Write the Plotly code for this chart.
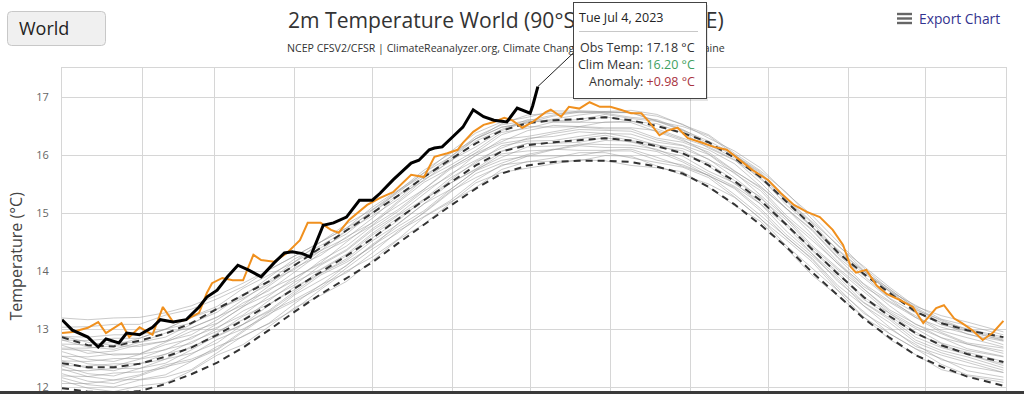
import plotly.graph_objects as go
import pandas as pd

# ---------------- data ----------------
# climatology (1979-2000) sampled every 10 days (day-of-year, Jan 1 = 0)
clim_days = [0, 10, 20, 30, 40, 50, 60, 70, 80, 90, 100, 110, 120, 130, 140, 150, 160, 170, 180, 190,
             200, 210, 220, 230, 240, 250, 260, 270, 280, 290, 300, 310, 320, 330, 340, 350, 364]
clim_mean = [12.41, 12.34, 12.34, 12.40, 12.52, 12.68, 12.90, 13.15, 13.42, 13.70,
             13.98, 14.26, 14.56, 14.90, 15.22, 15.52, 15.82, 16.06, 16.17, 16.22,
             16.26, 16.29, 16.25, 16.15, 16.03, 15.82, 15.55, 15.22, 14.80, 14.38,
             13.95, 13.55, 13.22, 12.93, 12.72, 12.57, 12.43]
clim_upper = [12.86, 12.72, 12.70, 12.80, 12.92, 13.10, 13.35, 13.58, 13.82, 14.10,
              14.40, 14.70, 15.00, 15.30, 15.62, 15.92, 16.20, 16.42, 16.55, 16.60,
              16.62, 16.65, 16.60, 16.50, 16.38, 16.22, 15.95, 15.62, 15.20, 14.78,
              14.32, 13.95, 13.62, 13.30, 13.10, 12.98, 12.86]
clim_lower = [11.98, 11.92, 11.90, 11.93, 12.05, 12.22, 12.42, 12.68, 12.98, 13.30,
              13.60, 13.88, 14.15, 14.48, 14.80, 15.12, 15.42, 15.68, 15.82, 15.88,
              15.90, 15.90, 15.88, 15.80, 15.68, 15.45, 15.15, 14.80, 14.42, 13.98,
              13.58, 13.18, 12.85, 12.55, 12.35, 12.18, 12.02]

# past years: anomalies vs climatology, hundredths of a degree, at clim_days
gray_anom = [
    [-30,-36,-42,-38,-45,-40,-35,-42,-38,-33,-40,-44,-38,-36,-41,-35,-30,-36,-40,-38,-34,-39,-43,-37,-32,-38,-42,-36,-40,-45,-38,-34,-40,-37,-42,-38,-35],
    [-25,-30,-34,-28,-35,-38,-31,-27,-33,-36,-30,-26,-32,-35,-29,-34,-38,-31,-28,-33,-36,-30,-27,-34,-38,-32,-28,-31,-36,-33,-29,-35,-30,-27,-33,-36,-31],
    [-35,-28,-22,-27,-31,-24,-20,-28,-32,-26,-22,-29,-25,-21,-28,-31,-26,-23,-29,-27,-22,-25,-30,-28,-24,-21,-27,-32,-26,-22,-28,-25,-30,-27,-23,-29,-26],
    [-18,-24,-28,-21,-17,-23,-26,-20,-16,-22,-27,-21,-18,-24,-20,-15,-21,-25,-19,-23,-27,-22,-18,-24,-20,-17,-23,-26,-21,-18,-24,-28,-22,-19,-25,-21,-18],
    [-10,-16,-22,-19,-14,-20,-24,-17,-13,-19,-23,-16,-12,-18,-22,-17,-14,-20,-16,-12,-18,-21,-15,-19,-23,-17,-13,-18,-22,-16,-20,-15,-19,-23,-17,-14,-18],
    [-22,-16,-10,-14,-19,-12,-8,-15,-18,-11,-14,-17,-10,-13,-18,-12,-9,-15,-19,-13,-10,-16,-12,-9,-15,-18,-11,-14,-17,-12,-9,-15,-11,-16,-13,-10,-14],
    [-5,-11,-15,-8,-4,-10,-14,-7,-12,-9,-5,-11,-14,-8,-6,-12,-9,-4,-10,-13,-7,-11,-8,-5,-12,-14,-9,-6,-11,-8,-13,-10,-6,-12,-9,-5,-10],
    [-12,-6,-2,-8,-11,-4,-1,-7,-10,-5,-2,-8,-4,-9,-6,-1,-7,-10,-3,-6,-9,-4,-1,-7,-5,-10,-3,-6,-2,-8,-5,-9,-3,-7,-4,-1,-6],
    [4,-2,-6,0,-4,2,-3,-7,-1,3,-2,-5,1,-3,2,-1,-6,0,3,-2,-4,1,-3,0,4,-1,-5,-2,2,-3,0,-4,1,-2,3,-1,-3],
    [-4,2,6,0,5,-1,3,7,1,-2,4,0,6,2,-1,4,7,1,3,-2,2,5,0,3,-1,4,1,6,2,-1,3,0,5,2,-2,3,1],
    [12,6,2,8,4,10,6,1,7,11,5,3,9,6,2,8,4,10,7,3,6,9,5,2,8,11,6,4,8,3,7,10,5,8,4,6,9],
    [4,10,15,9,13,7,11,16,10,6,12,9,14,8,11,15,9,6,12,10,14,8,11,7,13,10,15,9,12,6,10,14,8,11,13,9,10],
    [20,14,10,16,12,18,13,9,15,19,14,11,17,13,16,12,18,14,10,15,18,13,16,11,14,19,13,17,12,15,18,14,11,16,13,17,15],
    [12,18,23,17,21,15,19,24,18,14,20,17,22,16,19,23,17,21,15,18,22,16,20,14,19,23,18,21,16,20,17,22,18,15,20,17,19],
    [24,29,21,17,25,28,20,23,27,19,16,24,28,22,19,26,21,17,25,29,23,18,22,27,24,20,17,23,28,25,21,18,24,27,22,19,24],
    [31,24,28,33,27,22,26,30,24,29,33,27,23,28,31,25,22,29,32,26,23,28,31,25,21,27,30,24,28,32,27,23,26,30,25,28,26],
    [26,33,37,30,27,34,31,26,32,36,29,33,27,31,36,30,26,33,29,35,31,27,34,30,26,32,37,31,28,34,29,33,30,27,31,35,30],
    [40,35,31,37,41,34,30,36,39,33,37,31,35,40,34,38,32,36,41,35,31,37,33,39,35,30,36,40,34,38,33,37,31,35,39,34,36],
    [33,39,43,37,34,40,44,38,35,41,37,43,39,34,40,36,42,38,44,37,35,41,38,43,39,35,40,37,42,39,36,41,44,38,35,39,37],
    [47,43,38,44,48,42,39,45,41,46,42,38,44,48,43,40,46,42,39,45,48,43,40,46,41,38,44,47,42,45,40,44,47,42,39,44,43],
    [40,46,50,44,48,52,45,41,47,51,46,43,49,45,48,44,50,46,42,47,50,45,48,43,46,51,45,49,44,47,50,46,43,48,45,49,47],
    [46,52,56,50,47,53,49,55,51,46,52,48,54,50,47,53,56,51,48,54,50,46,52,55,49,53,48,51,56,52,48,53,50,46,51,55,52],
    [78,82,85,80,76,72,68,64,60,56,52,48,45,42,40,44,46,42,38,40,43,45,48,44,40,42,46,44,40,38,42,45,42,40,44,42,40],
    [62,70,74,68,72,66,62,58,60,56,52,55,50,48,52,50,46,48,52,50,47,44,48,52,50,47,52,56,54,58,55,50,46,44,42,40,38],
]

# 2022 (orange)
y2022_days = [0, 4, 10, 14, 17, 23, 26, 30, 35, 39, 43, 48, 53, 56, 58, 62, 66, 70, 74, 77,
              82, 87, 92, 95, 100, 104, 107, 111, 118, 123, 128, 135, 140, 144, 149, 153, 155, 159, 163, 167,
              171, 174, 178, 182, 187, 189, 193, 196, 200, 204, 208, 212, 216, 220, 224, 227, 231, 234, 238, 242,
              247, 252, 257, 262, 267, 273, 278, 283, 288, 293, 298, 302, 305, 307, 311, 315, 319, 324, 329, 333,
              338, 341, 345, 348, 352, 356, 360, 364]
y2022_temp = [12.93, 12.95, 13.02, 13.12, 12.93, 13.10, 12.86, 13.03, 12.90, 13.38, 13.12, 13.16, 13.28, 13.62, 13.79, 13.88, 13.84, 13.84, 14.28, 14.19,
              14.16, 14.31, 14.53, 14.83, 14.83, 14.71, 14.66, 14.88, 15.14, 15.26, 15.36, 15.66, 15.62, 15.97, 16.03, 16.09, 16.21, 16.40, 16.52, 16.57,
              16.64, 16.60, 16.47, 16.57, 16.74, 16.78, 16.66, 16.83, 16.80, 16.91, 16.83, 16.83, 16.78, 16.72, 16.72, 16.57, 16.34, 16.42, 16.47, 16.29,
              16.22, 16.14, 16.09, 15.91, 15.74, 15.57, 15.34, 15.14, 15.02, 14.93, 14.71, 14.45, 14.07, 13.97, 14.02, 13.75, 13.60, 13.50, 13.38, 13.10,
              13.36, 13.41, 13.18, 13.10, 12.98, 12.81, 12.94, 13.14]

# 2023 observed (black), through Jul 4
obs_days = [0, 4, 10, 14, 17, 22, 25, 30, 35, 38, 43, 48, 53, 56, 60, 64, 68, 72, 77, 82,
            86, 89, 93, 96, 101, 105, 110, 115, 120, 123, 128, 135, 138, 142, 144, 147, 151, 155, 159, 163,
            167, 172, 176, 181, 182, 183, 184]
obs_temp = [13.16, 12.98, 12.86, 12.69, 12.83, 12.76, 12.93, 12.90, 13.03, 13.16, 13.12, 13.16, 13.38, 13.55, 13.67, 13.90, 14.10, 14.02, 13.90, 14.14,
            14.31, 14.33, 14.30, 14.24, 14.79, 14.83, 14.93, 15.22, 15.22, 15.34, 15.57, 15.86, 15.91, 16.09, 16.12, 16.14, 16.31, 16.48, 16.78, 16.66,
            16.60, 16.57, 16.81, 16.72, 16.85, 17.01, 17.18]

y_ticks = [12, 13, 14, 15, 16, 17]
title_text = "2m Temperature World (90°S-90°N, 0-360°E)"
subtitle_text = "NCEP CFSV2/CFSR | ClimateReanalyzer.org, Climate Change Institute, University of Maine"
tip_date = "Tue Jul 4, 2023"
tip_obs = "17.18 °C"
tip_clim = "16.20 °C"
tip_anom = "+0.98 °C"

# ---------------- layout helpers ----------------
W, H = 1024, 394
ML, MR, MT, MB = 62, 18, 68, 0
PW, PH = W - ML - MR, H - MT - MB
FONT = "Open Sans"


def px(x):
    return (x - ML) / PW


def py(y):
    return (H - MB - y) / PH


def rrect(x0, y0, x1, y1, r):
    return (f"M {px(x0 + r)},{py(y0)} L {px(x1 - r)},{py(y0)} Q {px(x1)},{py(y0)} {px(x1)},{py(y0 + r)} "
            f"L {px(x1)},{py(y1 - r)} Q {px(x1)},{py(y1)} {px(x1 - r)},{py(y1)} "
            f"L {px(x0 + r)},{py(y1)} Q {px(x0)},{py(y1)} {px(x0)},{py(y1 - r)} "
            f"L {px(x0)},{py(y0 + r)} Q {px(x0)},{py(y0)} {px(x0 + r)},{py(y0)} Z")


base = pd.Timestamp("2023-01-01")


def to_dates(days):
    return [base + pd.Timedelta(days=d) for d in days]


fig = go.Figure()

clim_x = to_dates(clim_days)
for anom in gray_anom:
    fig.add_trace(go.Scatter(x=clim_x, y=[m + a / 100 for m, a in zip(clim_mean, anom)], mode="lines",
                             line=dict(color="rgba(150,150,150,0.5)", width=1), hoverinfo="skip",
                             showlegend=False))

for series in (clim_lower, clim_upper, clim_mean):
    fig.add_trace(go.Scatter(x=clim_x, y=series, mode="lines",
                             line=dict(color="#333333", width=2, dash="7px,5px"), hoverinfo="skip",
                             showlegend=False))

fig.add_trace(go.Scatter(x=to_dates(y2022_days), y=y2022_temp, mode="lines",
                         line=dict(color="#F0901E", width=2), hoverinfo="skip", showlegend=False))
fig.add_trace(go.Scatter(x=to_dates(obs_days), y=obs_temp, mode="lines",
                         line=dict(color="#000000", width=3), hoverinfo="skip", showlegend=False))

grid = "#d6d6d6"
fig.update_layout(
    width=W, height=H, margin=dict(l=ML, r=MR, t=MT, b=MB, pad=0),
    paper_bgcolor="white", plot_bgcolor="white", hovermode=False,
    font=dict(family=FONT, color="#333"),
    xaxis=dict(type="date", range=["2023-01-01", "2024-01-01"], tickmode="linear", tick0="2023-01-01",
               dtick="M1", showticklabels=False, showgrid=True, gridcolor=grid, gridwidth=1,
               showline=True, linecolor=grid, mirror=True, zeroline=False, fixedrange=True),
    yaxis=dict(range=[12 - 7 / 58, 17.5], tickmode="array", tickvals=y_ticks,
               ticktext=[str(t) for t in y_ticks], showgrid=True, gridcolor=grid, gridwidth=1,
               showline=True, linecolor=grid, mirror=True, zeroline=False,
               ticks="outside", ticklen=10, tickcolor="rgba(0,0,0,0)",
               tickfont=dict(family=FONT, size=11, color="#666"), fixedrange=True),
)

shapes = []
# "World" selector box
shapes.append(dict(type="path", xref="paper", yref="paper", path=rrect(7.5, 11.5, 105.5, 45.5, 4),
                   fillcolor="#f0f0f0", line=dict(color="#c8c8c8", width=1)))
# hamburger icon
for yy in (14, 18.5, 23):
    shapes.append(dict(type="rect", xref="paper", yref="paper", x0=px(897), x1=px(912), y0=py(yy - 1.2),
                       y1=py(yy + 1.2), fillcolor="#666", line=dict(width=0)))
# bottom dark band (page edge)
shapes.append(dict(type="rect", xref="paper", yref="paper", x0=px(0), x1=px(W), y0=py(H), y1=py(391),
                   fillcolor="#3a3a3a", line=dict(width=0), layer="above"))

ann = []
ann.append(dict(text=title_text, x=px(506), y=py(20), xref="paper", yref="paper", xanchor="center",
                yanchor="middle", showarrow=False, font=dict(family=FONT, size=21.1, color="#333")))
ann.append(dict(text=subtitle_text, x=px(506), y=py(48), xref="paper", yref="paper", xanchor="center",
                yanchor="middle", showarrow=False, font=dict(family=FONT, size=10.6, color="#333")))
ann.append(dict(text="World", x=px(17), y=py(28), xref="paper", yref="paper", xanchor="left",
                yanchor="middle", showarrow=False, font=dict(family=FONT, size=18, color="#222")))
ann.append(dict(text="Export Chart", x=px(917), y=py(18.5), xref="paper", yref="paper", xanchor="left",
                yanchor="middle", showarrow=False, font=dict(family=FONT, size=13.8, color="#33338f")))
ann.append(dict(text="Temperature (°C)", x=px(15.5), y=py(256), xref="paper", yref="paper",
                xanchor="center", yanchor="middle", textangle=-90, showarrow=False,
                font=dict(family=FONT, size=16, color="#444")))
# tooltip connector from the last observed point
ann.append(dict(text="", x=to_dates(obs_days)[-1], y=obs_temp[-1], xref="x", yref="y", ax=37, ay=-35,
                showarrow=True, arrowhead=0, arrowwidth=1, arrowcolor="#222", standoff=0))
# tooltip shadow + box
ann.append(dict(text=" ", x=px(574), y=py(5), xref="paper", yref="paper", xanchor="left", yanchor="top",
                showarrow=False, width=134, height=96, borderpad=0, borderwidth=0,
                bgcolor="rgba(0,0,0,0.10)"))
ann.append(dict(text=" ", x=px(572.5), y=py(2.5), xref="paper", yref="paper", xanchor="left", yanchor="top",
                showarrow=False, width=132, height=95, borderpad=0, borderwidth=1, bordercolor="#444",
                bgcolor="white"))
ann.append(dict(text=" ", x=px(579), y=py(32), xref="paper", yref="paper", xanchor="left", yanchor="middle",
                showarrow=False, width=119, height=1, borderpad=0, borderwidth=0, bgcolor="#c8c8c8",
                font=dict(size=1)))
ann.append(dict(text=tip_date, x=px(577), y=py(17), xref="paper", yref="paper", xanchor="left",
                yanchor="middle", showarrow=False, font=dict(family=FONT, size=12.5, color="#222")))
rows = [("Obs Temp: ", tip_obs, "#333", 48), ("Clim Mean: ", tip_clim, "#3f9f5f", 64.5),
        ("Anomaly: ", tip_anom, "#a8323e", 81)]
for lab, val, col, yy in rows:
    ann.append(dict(text=f"{lab}<span style='color:{col}'>{val}</span>", x=px(697), y=py(yy),
                    xref="paper", yref="paper", xanchor="right", yanchor="middle", showarrow=False,
                    font=dict(family=FONT, size=12.5, color="#333")))

fig.update_layout(shapes=shapes, annotations=ann)
fig.write_html("out.html", config={"displayModeBar": False},
               post_script="document.body.style.margin='0px';document.body.style.overflow='hidden';")
